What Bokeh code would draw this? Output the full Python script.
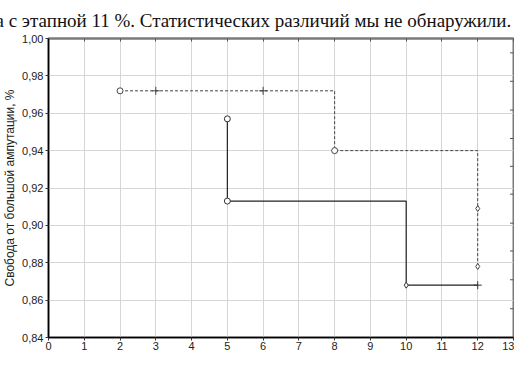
from bokeh.plotting import figure
from bokeh.models import (Range1d, FixedTicker, LinearAxis)
from bokeh.embed import file_html
from bokeh.resources import INLINE

# ---- data ----
heading = "а с этапной 11 %. Статистических различий мы не обнаружили."
y_axis_title = "Свобода от большой ампутации, %"

x_ticks = [0, 1, 2, 3, 4, 5, 6, 7, 8, 9, 10, 11, 12, 13]
y_ticks = [0.84, 0.86, 0.88, 0.90, 0.92, 0.94, 0.96, 0.98, 1.00]
y_tick_labels = ["0,84", "0,86", "0,88", "0,90", "0,92", "0,94", "0,96", "0,98", "1,00"]
right_ticks = [0.9923, 0.9771, 0.9617, 0.9465, 0.9316, 0.9167, 0.9012, 0.8863, 0.8709, 0.8554]
x_max = 13

# group 1 (dashed): events and censored
g1_time = [2, 8, 12, 12]
g1_surv = [0.972, 0.940, 0.909, 0.878]
g1_cens_time = [3, 6]
g1_cens_surv = [0.972, 0.972]

# group 2 (solid): events and censored
g2_time = [5, 5, 10]
g2_surv = [0.957, 0.913, 0.868]
g2_cens_time = [12]
g2_cens_surv = [0.868]

FONT = "Liberation Sans"

p = figure(width=514, height=352, output_backend="svg", toolbar_location=None,
           x_range=Range1d(0, x_max), y_range=Range1d(0.84, 1.00),
           min_border_left=45, min_border_right=1, min_border_top=0,
           min_border_bottom=0, background_fill_color="white",
           border_fill_color="white")
p.outline_line_color = "#7a7a7a"
p.outline_line_width = 2

# heading as title
p.title.text = heading
p.title.text_font = "Liberation Serif"
p.title.text_font_size = "19px"
p.title.text_font_style = "normal"
p.title.text_color = "#111111"
p.title.align = "left"
p.title.offset = -53
p.title.standoff = 15

# axes
p.xaxis.ticker = FixedTicker(ticks=x_ticks)
p.yaxis.ticker = FixedTicker(ticks=y_ticks)
p.yaxis.major_label_overrides = {t: l for t, l in zip(y_ticks, y_tick_labels)}
for ax in (p.xaxis[0], p.yaxis[0]):
    ax.axis_line_color = "black"
    ax.axis_line_width = 1.5
    ax.major_tick_line_color = "#333333"
    ax.major_tick_out = 3
    ax.major_tick_in = 0
    ax.minor_tick_line_color = None
    ax.major_label_text_font = FONT
    ax.major_label_text_font_size = "11px"
    ax.major_label_text_color = "#222222"
    ax.major_label_standoff = 2
p.xaxis.major_label_standoff = 1
p.yaxis.axis_label = y_axis_title
p.yaxis.axis_label_text_font = FONT
p.yaxis.axis_label_text_font_size = "12px"
p.yaxis.axis_label_text_font_style = "normal"
p.yaxis.axis_label_text_color = "#222222"
p.yaxis.axis_label_standoff = 2

# top frame axis (grey, inward ticks, no labels)
top = LinearAxis(ticker=FixedTicker(ticks=x_ticks))
top.major_label_overrides = {t: "" for t in x_ticks}
top.axis_line_color = "#7a7a7a"
top.axis_line_width = 2
top.major_tick_line_color = "#555555"
top.major_tick_in = 3
top.major_tick_out = 0
top.minor_tick_line_color = None
top.major_label_text_font_size = "11px"
top.major_label_standoff = 0
p.add_layout(top, "above")

# grid
p.xgrid.ticker = FixedTicker(ticks=x_ticks)
p.ygrid.ticker = FixedTicker(ticks=y_ticks)
p.grid.grid_line_color = "#d6d6d6"
p.grid.grid_line_width = 1

# right frame inward ticks (half of a dash marker centred on the border)
p.scatter([x_max] * len(right_ticks), right_ticks, marker="dash", size=7,
          line_color="#555555", line_width=1)

# group 1 dashed step
p.step(g1_time, g1_surv, mode="after", line_color="#444444", line_width=1,
       line_dash="3 2")
# group 2 solid step (extends to last censored)
p.step(g2_time + g2_cens_time, g2_surv + g2_cens_surv, mode="after",
       line_color="#222222", line_width=1.2)

# event markers
g1_markers = ["circle", "circle", "diamond", "diamond"]
g2_markers = ["circle", "circle", "diamond"]
p.scatter(g1_time, g1_surv, marker=g1_markers, size=6, line_color="#444444",
          fill_color="white", line_width=1)
p.scatter(g2_time, g2_surv, marker=g2_markers, size=6, line_color="#333333",
          fill_color="white", line_width=1)
# censored markers
p.scatter(g1_cens_time, g1_cens_surv, marker="cross", size=8,
          line_color="#444444", line_width=1)
p.scatter(g2_cens_time, g2_cens_surv, marker="cross", size=8,
          line_color="#333333", line_width=1)

open("out.html", "w").write(file_html(p, INLINE))
